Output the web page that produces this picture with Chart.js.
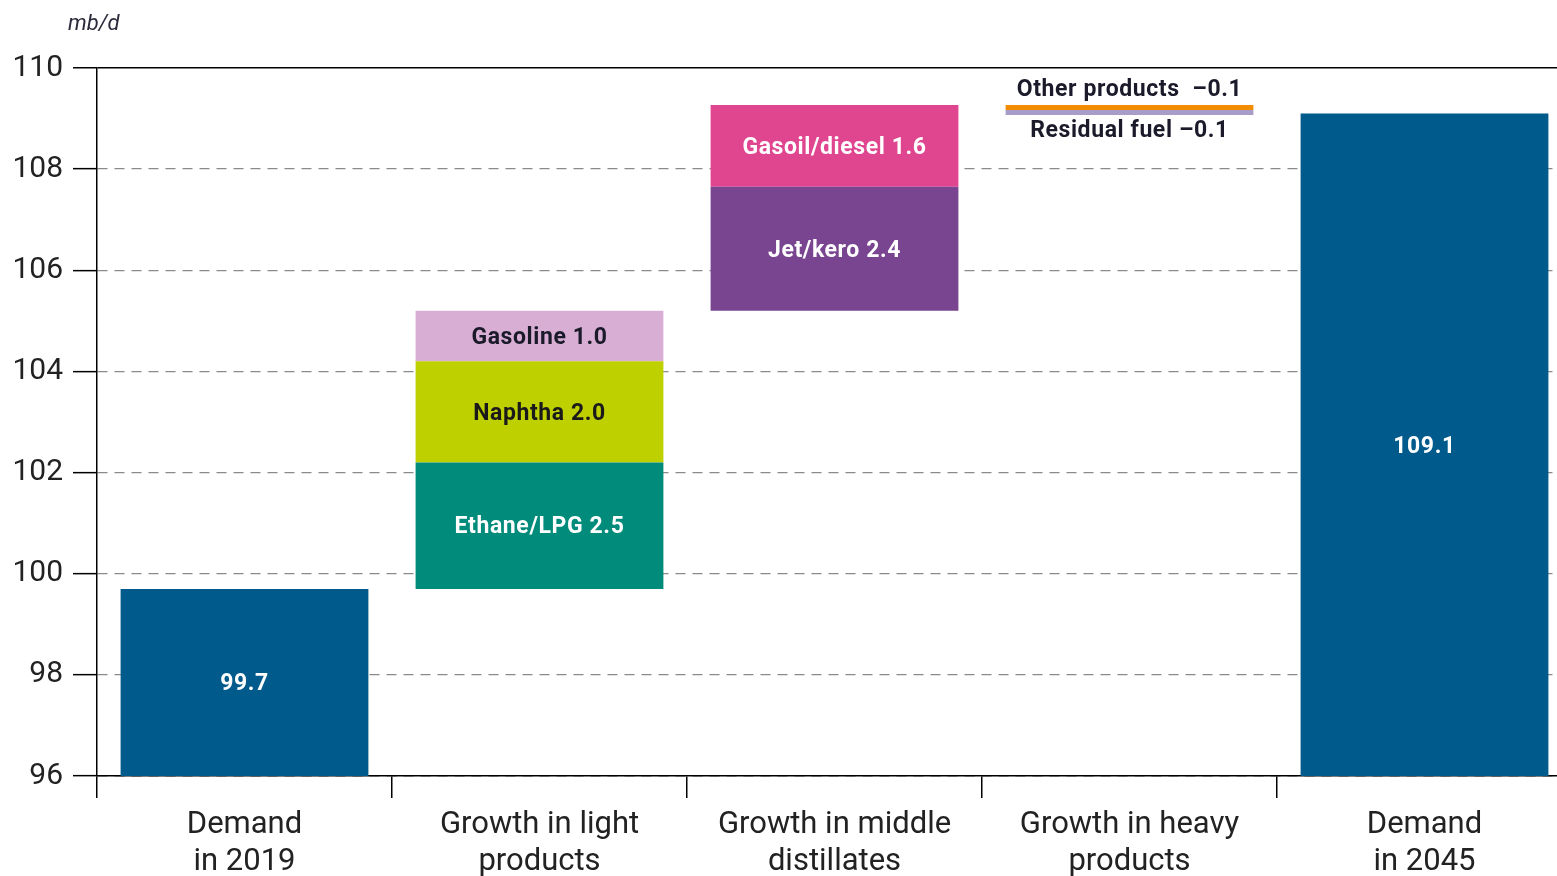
<!DOCTYPE html>
<html>
<head>
<meta charset="utf-8">
<script src="https://cdn.jsdelivr.net/npm/chart.js@4"></script>
<style>
  html, body { margin: 0; padding: 0; background: #fff; overflow: hidden; }
  #wrap { width: 1572px; height: 876px; }
</style>
</head>
<body>
<div id="wrap"><canvas id="chart" width="1572" height="876"></canvas></div>
<script>
// categories along the x axis
const categories = [
  ['Demand', 'in 2019'],
  ['Growth in light', 'products'],
  ['Growth in middle', 'distillates'],
  ['Growth in heavy', 'products'],
  ['Demand', 'in 2045']
];

// y axis (mb/d)
const yMin = 96;
const yMax = 110;
const yStep = 2;

// floating segments [from, to], one per category (null = none)
const demandRanges   = [[96, 99.7], null, null, null, [96, 109.1]];
const ethaneRanges   = [null, [99.7, 102.2], null, null, null];
const naphthaRanges  = [null, [102.2, 104.2], null, null, null];
const gasolineRanges = [null, [104.2, 105.2], null, null, null];
const jetRanges      = [null, null, [105.2, 107.65], null, null];
const gasoilRanges   = [null, null, [107.65, 109.27], null, null];
const otherRanges    = [null, null, null, [109.17, 109.27], null];
const residualRanges = [null, null, null, [109.07, 109.17], null];

// labels shown on the segments
const demandLabels   = ['99.7', null, null, null, '109.1'];
const ethaneLabel    = 'Ethane/LPG 2.5';
const naphthaLabel   = 'Naphtha 2.0';
const gasolineLabel  = 'Gasoline 1.0';
const jetLabel       = 'Jet/kero 2.4';
const gasoilLabel    = 'Gasoil/diesel 1.6';
const otherLabel     = 'Other products  \u20130.1';
const residualLabel  = 'Residual fuel \u20130.1';

const FONT = 'Roboto, "Noto Sans", sans-serif';

function ds(label, data, color, text, textColor, where) {
  return { label, data, backgroundColor: color, borderWidth: 0,
           barPercentage: 0.84, categoryPercentage: 1.0,
           segText: text, segTextColor: textColor, segWhere: where || 'inside' };
}

const datasets = [
  ds('Demand', demandRanges, '#005a8c', demandLabels, '#ffffff'),
  ds('Ethane/LPG', ethaneRanges, '#008b7b', ethaneLabel, '#ffffff'),
  ds('Naphtha', naphthaRanges, '#bfd000', naphthaLabel, '#1a1a1a'),
  ds('Gasoline', gasolineRanges, '#d9aed4', gasolineLabel, '#1a1a2a'),
  ds('Jet/kero', jetRanges, '#7a4590', jetLabel, '#ffffff'),
  ds('Gasoil/diesel', gasoilRanges, '#e0458f', gasoilLabel, '#ffffff'),
  ds('Other products', otherRanges, '#f28c00', otherLabel, '#1a1a2a', 'above'),
  ds('Residual fuel', residualRanges, '#a89cc8', residualLabel, '#1a1a2a', 'below')
];

// draws the text on each segment plus the unit label
const segmentLabels = {
  id: 'segmentLabels',
  afterDatasetsDraw(chart) {
    const ctx = chart.ctx;
    ctx.save();
    ctx.font = 'bold 23px ' + FONT;
    ctx.letterSpacing = '0.6px';
    ctx.textAlign = 'center';
    ctx.textBaseline = 'middle';
    chart.data.datasets.forEach((d, di) => {
      const meta = chart.getDatasetMeta(di);
      meta.data.forEach((bar, i) => {
        if (d.data[i] == null) return;
        const text = Array.isArray(d.segText) ? d.segText[i] : d.segText;
        if (!text) return;
        const top = Math.min(bar.y, bar.base);
        const bottom = Math.max(bar.y, bar.base);
        let y = (top + bottom) / 2 + 2;
        if (d.segWhere === 'above') y = top - 15;
        if (d.segWhere === 'below') y = bottom + 16;
        ctx.fillStyle = d.segTextColor;
        ctx.fillText(text, bar.x, y);
      });
    });
    // unit
    const area = chart.chartArea;
    ctx.letterSpacing = '0px';
    ctx.font = 'italic 22px ' + FONT;
    ctx.textAlign = 'left';
    ctx.fillStyle = '#2a2a3a';
    ctx.fillText('mb/d', area.left - 29, area.top - 44);
    ctx.restore();
  }
};

new Chart(document.getElementById('chart'), {
  type: 'bar',
  data: { labels: categories, datasets: datasets },
  options: {
    responsive: false,
    animation: false,
    layout: { padding: { top: 68, right: 0, bottom: 0, left: 0 } },
    plugins: { legend: { display: false }, tooltip: { enabled: false } },
    scales: {
      x: {
        stacked: true,
        grid: { offset: true, drawOnChartArea: false, tickLength: 22, color: '#000', lineWidth: 1.5 },
        border: { color: '#000', width: 1.5 },
        ticks: {
          padding: 9,
          color: '#222',
          font: { family: FONT, size: 31, lineHeight: 1.18 },
          maxRotation: 0,
          autoSkip: false
        },
        afterFit(scale) { scale.height = 100; }
      },
      y: {
        stacked: false,
        min: yMin,
        max: yMax,
        grid: {
          color: c => (c.tick && (c.tick.value === yMax || c.tick.value === yMin)) ? '#000' : '#8a8a8a',
          lineWidth: c => (c.tick && c.tick.value === yMax) ? 1.5 : 1.3,
          tickColor: '#000',
          tickWidth: 1.5,
          tickLength: 24
        },
        border: {
          color: '#000',
          width: 1.5,
          dash: c => (c.type === 'tick' && c.tick && c.tick.value !== yMax) ? [10, 7] : []
        },
        ticks: {
          stepSize: yStep,
          padding: 10,
          color: '#222',
          font: { family: FONT, size: 30 }
        },
        afterFit(scale) { scale.width = 97; }
      }
    }
  },
  plugins: [segmentLabels]
});
</script>
</body>
</html>
